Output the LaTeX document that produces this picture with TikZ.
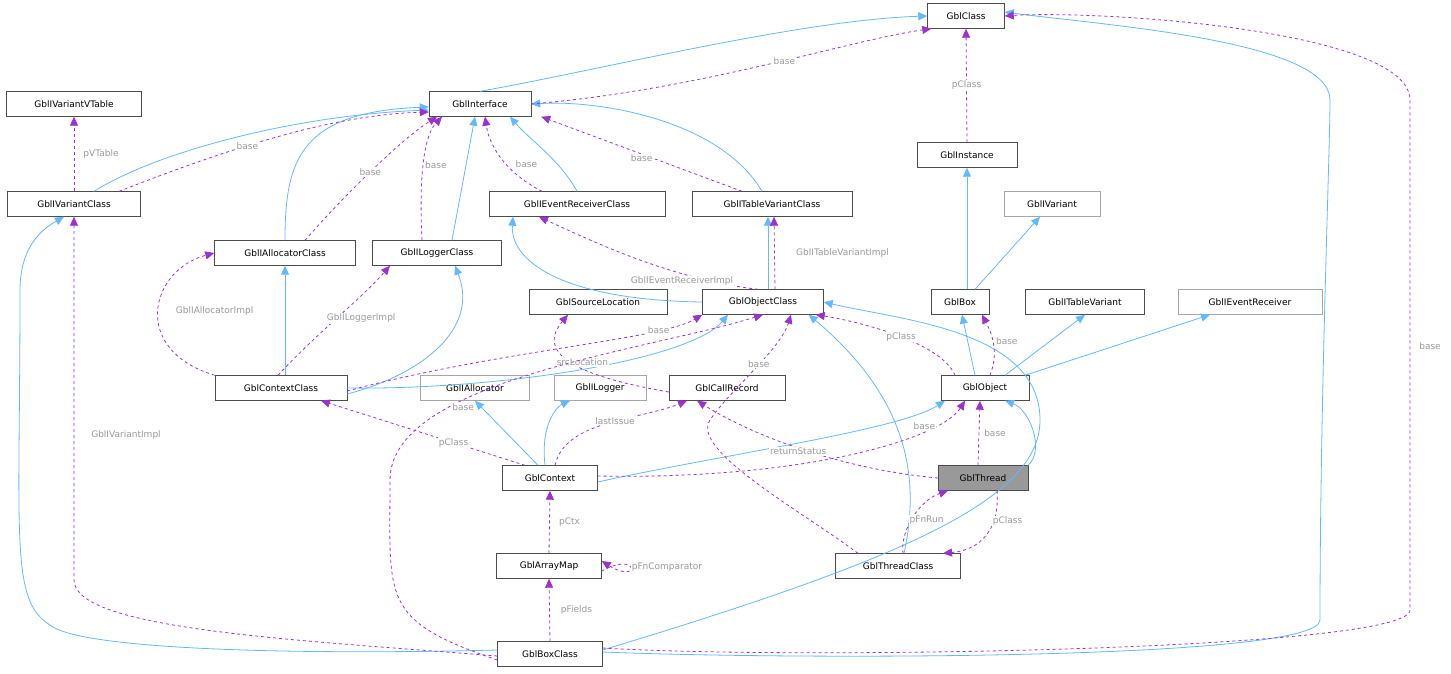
\documentclass[tikz,border=0pt]{standalone}
\usepackage{fontspec}
\setmainfont{DejaVu Sans}
\usetikzlibrary{arrows.meta}
\definecolor{bl}{HTML}{63B8FF}
\definecolor{pu}{HTML}{9A32CD}
\definecolor{lg}{HTML}{9A9A9A}
\begin{document}
\begin{tikzpicture}[x=1pt,y=-1pt,
 n/.style={draw=black!70,fill=white,minimum height=25pt,inner sep=0pt,font=\fontsize{9}{10}\selectfont},
 g/.style={n,draw=black!35},
 inh/.style={draw=bl,line width=0.8pt,-{Triangle[width=8pt,length=9pt]}},
 use/.style={draw=pu,line width=0.8pt,dashed,-{Triangle[width=8pt,length=9pt]}},
 lb/.style={text=lg,font=\fontsize{9}{10}\selectfont,fill=white,inner sep=1pt}]
\useasboundingbox (0,0) rectangle (1451,673);
\node[n,minimum width=77pt] (Class) at (966,16) {GblClass};
\node[n,minimum width=102pt] (Iface) at (480,104) {GblInterface};
\node[n,minimum width=135pt] (VT) at (74,104) {GblIVariantVTable};
\node[n,minimum width=133pt] (IVC) at (74,204) {GblIVariantClass};
\node[n,minimum width=100pt] (Inst) at (967,155) {GblInstance};
\node[g,minimum width=96pt] (IVar) at (1052,204) {GblIVariant};
\node[n,minimum width=176pt] (IERC) at (577,204) {GblIEventReceiverClass};
\node[n,minimum width=160pt] (ITVC) at (772,204) {GblITableVariantClass};
\node[n,minimum width=141pt] (IAC) at (285,253) {GblIAllocatorClass};
\node[n,minimum width=129pt] (ILC) at (437,253) {GblILoggerClass};
\node[n,minimum width=138pt] (SrcL) at (598,302) {GblSourceLocation};
\node[n,minimum width=121pt] (OC) at (763,302) {GblObjectClass};
\node[n,minimum width=58pt] (Box) at (960,302) {GblBox};
\node[n,minimum width=119pt] (ITV) at (1085,302) {GblITableVariant};
\node[g,minimum width=144pt] (IER) at (1250,302) {GblIEventReceiver};
\node[n,minimum width=132pt] (CC) at (281,388) {GblContextClass};
\node[g,minimum width=109pt] (IA) at (475,388) {GblIAllocator};
\node[g,minimum width=92pt] (IL) at (600,388) {GblILogger};
\node[n,minimum width=116pt] (CR) at (727,388) {GblCallRecord};
\node[n,minimum width=88pt] (Obj) at (985,388) {GblObject};
\node[n,minimum width=95pt] (Ctx) at (550,478) {GblContext};
\node[n,fill=black!40,minimum width=90pt] (Thr) at (983,478) {GblThread};
\node[n,minimum width=105pt] (AM) at (549,566) {GblArrayMap};
\node[n,minimum width=125pt] (TC) at (898,566) {GblThreadClass};
\node[n,minimum width=105pt] (BC) at (550,654) {GblBoxClass};

% inheritance
\draw[inh] (Iface.north) .. controls (600,70) and (800,20) .. (Class.west);
\draw[inh] ([xshift=20pt]IVC.north) .. controls (160,150) and (300,115) .. ([yshift=-6pt]Iface.west);
\draw[inh] (IAC.north) .. controls (285,160) and (300,112) .. ([yshift=-3pt]Iface.west);
\draw[inh] ([xshift=15pt]ILC.north) -- ([xshift=-5pt]Iface.south);
\draw[inh] (IERC.north) .. controls (560,160) and (530,140) .. ([xshift=30pt]Iface.south);
\draw[inh] ([xshift=-10pt]ITVC.north) .. controls (720,120) and (600,100) .. (Iface.east);
\draw[inh] (OC.west) .. controls (560,300) and (510,260) .. ([xshift=-64pt]IERC.south);
\draw[inh] ([xshift=5pt]OC.north) -- ([xshift=-4pt]ITVC.south);
\draw[inh] ([xshift=4pt]CC.north) -- (IAC.south);
\draw[inh] ([yshift=-6pt]CC.east) .. controls (420,375) and (480,330) .. ([xshift=18pt]ILC.south);
\draw[inh] (CC.east) .. controls (500,390) and (690,360) .. ([xshift=-35pt]OC.south);
\draw[inh] ([xshift=7pt]Box.north) -- (Inst.south);
\draw[inh] ([xshift=15pt]Box.north) -- ([xshift=-12pt]IVar.south);
\draw[inh] ([xshift=-10pt]Obj.north) -- ([xshift=2pt]Box.south);
\draw[inh] ([xshift=20pt]Obj.north) -- (ITV.south);
\draw[inh] ([xshift=40pt]Obj.north) -- ([xshift=-40pt]IER.south);
\draw[inh] ([xshift=-12pt]Ctx.north) -- (IA.south);
\draw[inh] ([xshift=-5pt]Ctx.north) .. controls (540,420) and (560,405) .. ([xshift=-30pt]IL.south);
\draw[inh] ([yshift=-4pt]Ctx.east) .. controls (720,455) and (900,430) .. ([xshift=-40pt]Obj.south);
\draw[inh] (Thr.north east) .. controls (1045,450) and (1030,410) .. ([xshift=20pt]Obj.south);
\draw[inh] ([xshift=6pt]TC.north) .. controls (920,480) and (910,400) .. ([xshift=-15pt]OC.south east);
\draw[inh] ([yshift=4pt]BC.west) .. controls (300,655) and (80,650) .. (50,625) .. controls (10,600) and (20,540) .. (20,290) .. controls (20,240) and (50,225) .. ([xshift=-10pt]IVC.south);
\draw[inh] ([yshift=4pt]BC.east) .. controls (900,560) and (1040,500) .. (1040,420) .. controls (1040,330) and (900,320) .. (OC.east);
\draw[inh] ([yshift=2pt]BC.east) .. controls (800,660) and (1320,660) .. (1320,620) .. controls (1320,400) and (1330,150) .. (1330,100) .. controls (1330,40) and (1100,25) .. ([yshift=4pt]Class.east);

% usage
\draw[use] (Iface.east) .. controls (700,90) and (850,40) .. ([xshift=4pt]Class.south west) node[lb,pos=0.55] {base};
\draw[use] (Inst.north) -- (Class.south) node[lb,midway] {pClass};
\draw[use] (IVC.north) -- (VT.south) node[lb,midway,xshift=27pt] {pVTable};
\draw[use] ([xshift=45pt]IVC.north) .. controls (200,160) and (320,115) .. ([yshift=-8pt]Iface.west) node[lb,pos=0.45] {base};
\draw[use] ([xshift=20pt]IAC.north) .. controls (340,200) and (400,140) .. ([xshift=-43pt]Iface.south) node[lb,pos=0.5] {base};
\draw[use] ([xshift=-15pt]ILC.north) .. controls (420,200) and (420,140) .. ([xshift=-38pt]Iface.south) node[lb,pos=0.55,xshift=12pt] {base};
\draw[use] ([xshift=-35pt]IERC.north) .. controls (510,175) and (490,150) .. ([xshift=5pt]Iface.south) node[lb,pos=0.45,xshift=20pt] {base};
\draw[use] ([xshift=-30pt]ITVC.north) -- ([xshift=10pt]Iface.south east) node[lb,midway,yshift=-4pt] {base};
\draw[use] ([xshift=-5pt]OC.north) .. controls (680,280) and (610,250) .. ([xshift=-38pt]IERC.south) node[lb,pos=0.2,xshift=-30pt] {GblIEventReceiverImpl};
\draw[use] ([xshift=12pt]OC.north) -- ([xshift=2pt]ITVC.south) node[lb,midway,xshift=68pt] {GblITableVariantImpl};
\draw[use] (CC.north west) .. controls (130,350) and (150,270) .. (IAC.west) node[lb,pos=0.5,xshift=56pt] {GblIAllocatorImpl};
\draw[use] ([xshift=-3pt]CC.north) .. controls (320,330) and (360,300) .. ([xshift=-47pt]ILC.south) node[lb,pos=0.48,xshift=25pt] {GblILoggerImpl};
\draw[use] ([yshift=-3pt]CC.east) .. controls (500,350) and (660,340) .. (OC.south west) node[lb,pos=0.78] {base};
\draw[use] ([yshift=-4pt]CR.west) .. controls (600,380) and (530,360) .. ([xshift=-30pt]SrcL.south) node[lb,pos=0.55,xshift=10pt] {srcLocation};
\draw[use] ([xshift=-30pt]Obj.north) .. controls (940,340) and (850,320) .. ([xshift=-8pt]OC.south east) node[lb,pos=0.45] {pClass};
\draw[use] ([xshift=5pt]Obj.north) .. controls (1000,350) and (990,330) .. ([xshift=22pt]Box.south) node[lb,pos=0.5,xshift=14pt] {base};
\draw[use] ([xshift=-25pt]Ctx.north) -- ([xshift=40pt]CC.south) node[lb,pos=0.35] {pClass};
\draw[use] ([xshift=5pt]Ctx.north) .. controls (565,420) and (640,420) .. ([xshift=-40pt]CR.south) node[lb,pos=0.55] {lastIssue};
\draw[use] ([yshift=2pt]Ctx.east) .. controls (800,480) and (940,440) .. ([xshift=-20pt]Obj.south) node[lb,pos=0.78,xshift=-8pt] {base};
\draw[use] (Thr.west) .. controls (850,470) and (760,440) .. ([xshift=-30pt]CR.south) node[lb,pos=0.5,xshift=-10pt] {returnStatus};
\draw[use] ([xshift=-5pt]Thr.north) -- ([xshift=-5pt]Obj.south) node[lb,midway,xshift=16pt] {base};
\draw[use] ([xshift=5pt]TC.north) .. controls (900,530) and (920,500) .. ([xshift=-35pt]Thr.south) node[lb,pos=0.45,xshift=15pt] {pFnRun};
\draw[use] ([xshift=14pt]Thr.south) .. controls (1000,530) and (980,550) .. ([xshift=45pt]TC.north) node[lb,pos=0.3,xshift=14pt] {pClass};
\draw[use] ([xshift=-40pt]TC.north) .. controls (800,510) and (690,450) .. (710,420) .. controls (730,390) and (780,350) .. ([xshift=28pt]OC.south) node[lb,pos=0.55] {base};
\draw[use] (AM.north) -- (Ctx.south) node[lb,midway,xshift=20pt] {pCtx};
\draw[use] ([yshift=-5pt]AM.east) .. controls (640,550) and (640,585) .. ([yshift=5pt]AM.east) node[lb,pos=0.5,anchor=west] {pFnComparator};
\draw[use] (BC.north) -- (AM.south) node[lb,midway,xshift=27pt] {pFields};
\draw[use] ([yshift=-2pt]BC.west) .. controls (300,640) and (74,630) .. (74,580) -- (IVC.south) node[lb,pos=0.4,xshift=52pt] {GblIVariantImpl};
\draw[use] ([yshift=-6pt]BC.west) .. controls (380,620) and (390,600) .. (390,480) .. controls (390,380) and (650,350) .. (OC.south) node[lb,pos=0.3,xshift=14pt] {base};
\draw[use] ([yshift=6pt]BC.east) .. controls (800,660) and (1410,650) .. (1410,610) .. controls (1410,400) and (1410,150) .. (1410,100) .. controls (1410,30) and (1100,10) .. (Class.east);
\node[lb] at (1430,346) {base};
\end{tikzpicture}
\end{document}
